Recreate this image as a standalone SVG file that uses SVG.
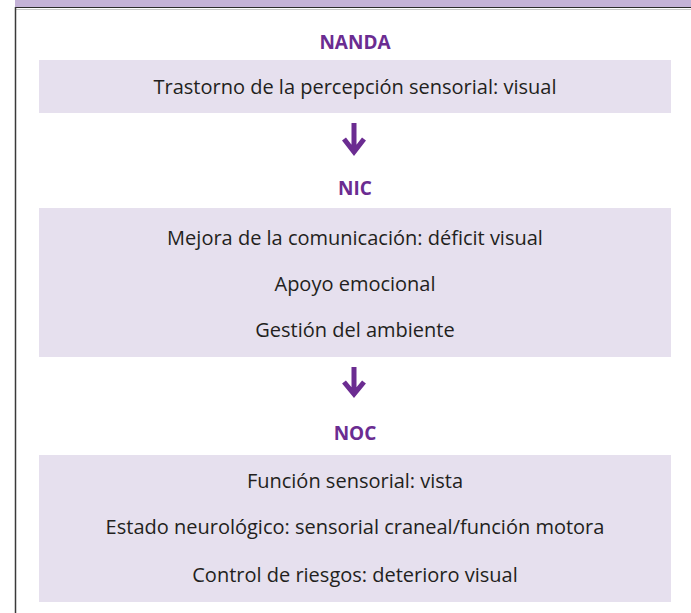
<svg xmlns="http://www.w3.org/2000/svg" width="691" height="613" viewBox="0 0 691 613">
<style>
.box{fill:#e6e0ee}
.hd{font-family:"Open Sans","Liberation Sans",sans-serif;font-weight:bold;font-size:19px;fill:#6b2c91;text-anchor:middle}
.tx{font-family:"Open Sans","Liberation Sans",sans-serif;font-size:20px;fill:#231f20;text-anchor:middle}
.arr{fill:none;stroke:#6b2c91;stroke-width:5;stroke-linejoin:miter;stroke-miterlimit:10}
</style>
<rect x="15" y="0" width="676" height="7" fill="#c4b2d7"/>
<line x1="15" y1="7.5" x2="691" y2="7.5" stroke="#2a2a2a" stroke-width="1.2"/>
<line x1="15" y1="9.5" x2="691" y2="9.5" stroke="#c8c8c8" stroke-width="1"/>
<line x1="15.5" y1="7" x2="15.5" y2="613" stroke="#3a3a3a" stroke-width="1.5"/>
<g id="nanda">
<text class="hd" x="355" y="49">NANDA</text>
<rect class="box" x="39" y="60" width="632" height="53"/>
<text class="tx" x="355" y="94">Trastorno de la percepción sensorial: visual</text>
</g>
<g id="nic">
<text class="hd" x="355" y="195">NIC</text>
<rect class="box" x="39" y="208" width="632" height="149"/>
<text class="tx" x="355" y="245">Mejora de la comunicación: déficit visual</text>
<text class="tx" x="355" y="291">Apoyo emocional</text>
<text class="tx" x="355" y="337">Gestión del ambiente</text>
</g>
<g id="noc">
<text class="hd" x="355" y="440">NOC</text>
<rect class="box" x="39" y="455" width="632" height="147"/>
<text class="tx" x="355" y="488">Función sensorial: vista</text>
<text class="tx" x="355" y="534">Estado neurológico: sensorial craneal/función motora</text>
<text class="tx" x="355" y="582">Control de riesgos: deterioro visual</text>
</g>
<g id="connectors">
<path class="arr" d="M354,123 V152 M344,139 L354,152 L364,139"/>
<path class="arr" d="M354,367 V394 M344,382 L354,394 L364,382"/>
</g>
</svg>
